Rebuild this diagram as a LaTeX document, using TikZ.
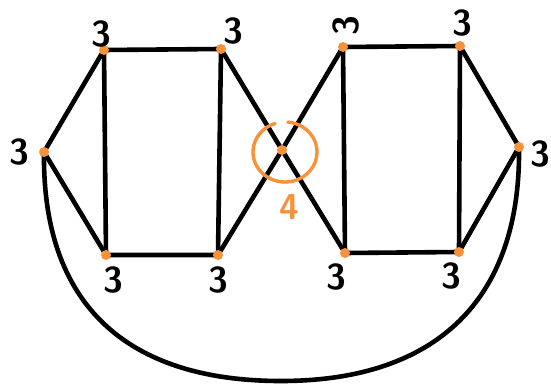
\documentclass[tikz,border=0pt]{standalone}
\usepackage{tikz}
\definecolor{dotorange}{HTML}{F7923A}
\tikzset{
  edge/.style={line width=4.6pt, line cap=round, line join=round},
  vtx/.style={circle, fill=dotorange, inner sep=0pt, minimum size=10pt},
  deg/.style={font=\sffamily\bfseries\fontsize{36}{38}\selectfont},
  ring/.style={draw=dotorange, line width=3.4pt, line cap=round}
}
\begin{document}
\begin{tikzpicture}[x=1pt,y=-1pt]
\useasboundingbox (0,0) rectangle (551,385);
% vertices
\coordinate (L) at (44,152);
\coordinate (A) at (104,50);
\coordinate (B) at (221,49);
\coordinate (C) at (106,255);
\coordinate (D) at (218,255);
\coordinate (X) at (282,150);
\coordinate (E) at (343,47);
\coordinate (F) at (460,46);
\coordinate (G) at (345,253);
\coordinate (H) at (459,252);
\coordinate (R) at (519,147);
\coordinate (bot) at (281,381);
% edges
\draw[edge] (L) -- (A) -- (B) -- (D) -- (C) -- (L);
\draw[edge] (A) -- (C);
\draw[edge] (B) -- (X) -- (G);
\draw[edge] (D) -- (X) -- (E);
\draw[edge] (E) -- (F) -- (R) -- (H) -- (G) -- (E);
\draw[edge] (F) -- (H);
\draw[edge] (L) .. controls (42,305) and (127,381) .. (bot)
  .. controls (436,381) and (521,300) .. (R);
% dots
\foreach \v in {L,A,B,C,D,X,E,F,G,H,R}
  \node[vtx] at (\v) {};
% circled vertex
\coordinate (ringc) at (285,152);
\draw[ring] (ringc) ++(275:32 and 30) arc[start angle=275, end angle=612, x radius=32, y radius=30];
% degrees
\node[deg] (lL) at (19,152) {3};
\node[deg] (lA) at (101,34) {3};
\node[deg] (lB) at (233,31) {3};
\node[deg] (lC) at (113,280) {3};
\node[deg] (lD) at (218,280) {3};
\node[deg, rotate=90] (lE) at (346,26) {3};
\node[deg] (lF) at (462,23) {3};
\node[deg] (lG) at (336,277) {3};
\node[deg] (lH) at (451,276) {3};
\node[deg] (lR) at (540,154) {3};
\node[deg, text=dotorange] (lX) at (289,207) {4};
\end{tikzpicture}
\end{document}
